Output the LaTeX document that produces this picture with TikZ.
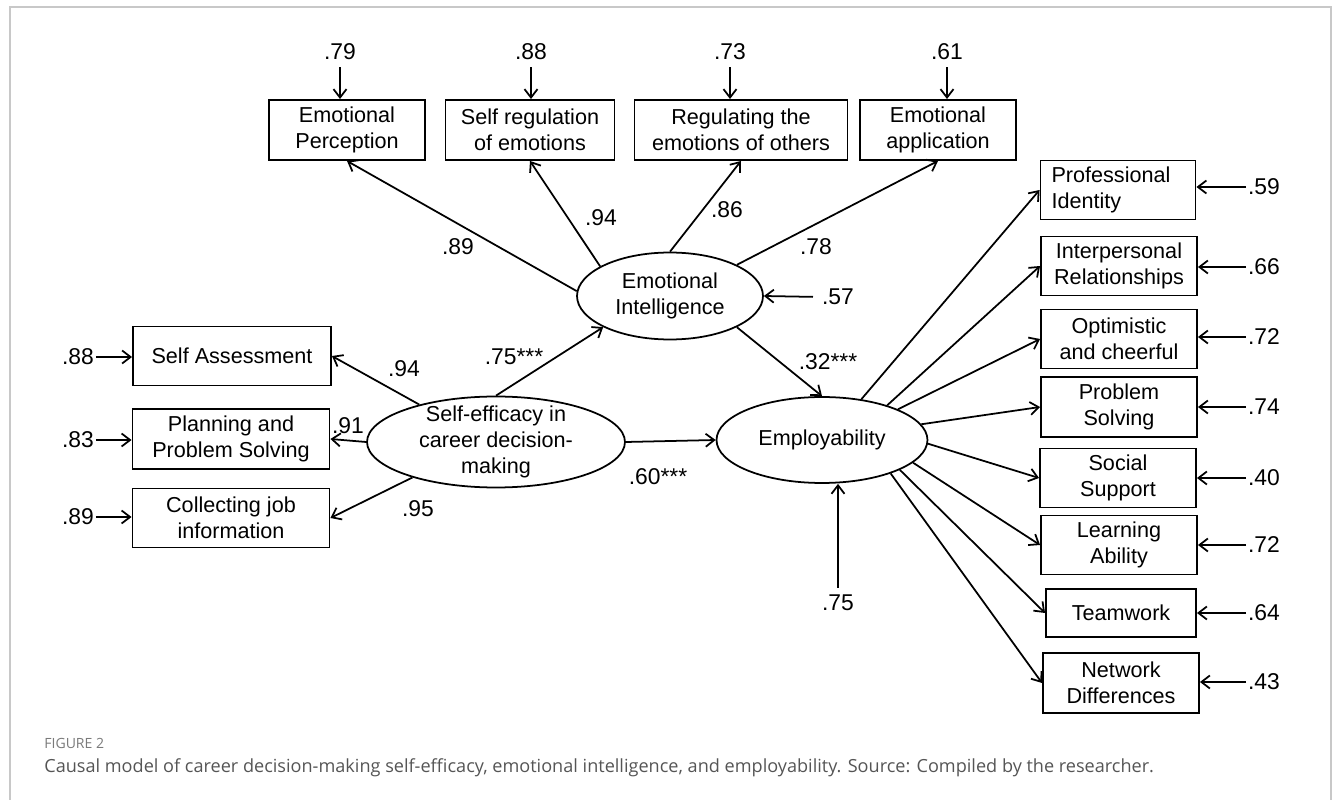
\documentclass[tikz,border=0pt]{standalone}
\usepackage{fontspec}
\setmainfont{Liberation Sans}
\newfontfamily\capfont{Open Sans}
\usepackage{tikz}
\usetikzlibrary{arrows.meta,positioning,shapes.geometric}
\definecolor{framegray}{HTML}{C8C8C8}
\definecolor{capgray}{HTML}{555555}
\definecolor{figgray}{HTML}{7A7A7A}

\begin{document}
\begin{tikzpicture}[
  x=0.02cm,y=-0.02cm,
  indicator/.style={rectangle,draw,line width=1.1pt,minimum width=3.12cm,minimum height=1.2cm,
                    align=center,inner sep=2pt,font=\fontsize{12.3}{14.8}\selectfont},
  latent/.style={ellipse,draw,line width=1pt,inner sep=0pt,align=center,
                 font=\fontsize{12.3}{14.8}\selectfont},
  coef/.style={inner sep=1pt,font=\fontsize{13}{15}\selectfont},
  errterm/.style={inner xsep=1pt,inner ysep=4pt,font=\fontsize{13}{15}\selectfont},
  arrow/.style={-{Straight Barb[length=1.7mm,width=2.6mm]},line width=1pt}
]
  \useasboundingbox (0,0) rectangle (1333,800);
  \draw[framegray,line width=0.8pt] (10,800) -- (10,7) -- (1331,7) -- (1331,800);

  % latent constructs
  \node[latent,minimum width=5.16cm,minimum height=1.82cm,inner ysep=-6pt] (cdse) at (496,442) {Self-efficacy in\\career decision-\\making};
  \node[latent,minimum width=3.72cm,minimum height=1.74cm] (ei) at (670,296) {Emotional\\Intelligence};
  \node[latent,minimum width=4.22cm,minimum height=1.72cm] (emp) at (822,440) {Employability};

  % emotional intelligence indicators
  \node[indicator] (perc) at (347,130) {Emotional\\Perception};
  \node[indicator,minimum width=3.38cm] (selfreg) at (530,130) {Self regulation\\of emotions};
  \node[indicator,minimum width=4.26cm] (others) at (741,130) {Regulating the\\emotions of others};
  \node[indicator] (appl) at (938,130) {Emotional\\application};

  % self-efficacy indicators
  \node[indicator,minimum width=3.96cm,minimum height=1.18cm] (assess) at (232,356) {Self Assessment};
  \node[indicator,minimum width=3.94cm] (plan) at (231,439) {Planning and\\Problem Solving};
  \node[indicator,minimum width=3.94cm,minimum height=1.18cm] (jobinfo) at (231,518) {Collecting job\\information};

  % employability indicators
  \node[indicator,minimum width=3.1cm,minimum height=1.18cm,align=left,text width=2.66cm,inner xsep=0.22cm] (ident) at (1118,190) {Professional\\Identity};
  \node[indicator,minimum height=1.18cm] (relat) at (1119,266) {Interpersonal\\Relationships};
  \node[indicator,minimum height=1.18cm] (optim) at (1119,339) {Optimistic\\and cheerful};
  \node[indicator] (probsolv) at (1119,407) {Problem\\Solving};
  \node[indicator,minimum height=1.18cm] (social) at (1118,478) {Social\\Support};
  \node[indicator,minimum height=1.18cm] (learn) at (1119,545) {Learning\\Ability};
  \node[indicator,minimum width=3.0cm,minimum height=0.96cm] (team) at (1121,613) {Teamwork};
  \node[indicator] (network) at (1121,683) {Network\\Differences};

  % error terms
  \node[errterm] (eperc) at (340,52) {.79};
  \node[errterm] (eselfreg) at (531,52) {.88};
  \node[errterm] (eothers) at (730,52) {.73};
  \node[errterm] (eappl) at (947,52) {.61};
  \node[errterm] (eassess) at (78,357) {.88};
  \node[errterm] (eplan) at (78,440) {.83};
  \node[errterm] (ejobinfo) at (78,517) {.89};
  \node[errterm] (eei) at (838,297) {.57};
  \node[errterm] (eemp) at (838,603) {.75};
  \node[errterm] (eident) at (1264,187) {.59};
  \node[errterm] (erelat) at (1264,267) {.66};
  \node[errterm] (eoptim) at (1264,337) {.72};
  \node[errterm] (eprobsolv) at (1264,407) {.74};
  \node[errterm] (esocial) at (1264,478) {.40};
  \node[errterm] (elearn) at (1264,545) {.72};
  \node[errterm] (eteam) at (1264,613) {.64};
  \node[errterm] (enetwork) at (1264,682) {.43};

  \draw[arrow] (eperc.south) -- (eperc.south |- perc.north);
  \draw[arrow] (eselfreg.south) -- (eselfreg.south |- selfreg.north);
  \draw[arrow] (eothers.south) -- (eothers.south |- others.north);
  \draw[arrow] (eappl.south) -- (eappl.south |- appl.north);
  \draw[arrow] (eassess.east) -- (eassess.east -| assess.west);
  \draw[arrow] (eplan.east) -- (eplan.east -| plan.west);
  \draw[arrow] (ejobinfo.east) -- (ejobinfo.east -| jobinfo.west);
  \draw[arrow,shorten <=4pt] (eei.west) -- (ei.east);
  \draw[arrow] (eemp.north) -- (eemp.north |- emp.south);
  \draw[arrow] (eident.west) -- (eident.west -| ident.east);
  \draw[arrow] (erelat.west) -- (erelat.west -| relat.east);
  \draw[arrow] (eoptim.west) -- (eoptim.west -| optim.east);
  \draw[arrow] (eprobsolv.west) -- (eprobsolv.west -| probsolv.east);
  \draw[arrow] (esocial.west) -- (esocial.west -| social.east);
  \draw[arrow] (elearn.west) -- (elearn.west -| learn.east);
  \draw[arrow] (eteam.west) -- (eteam.west -| team.east);
  \draw[arrow] (enetwork.west) -- (enetwork.west -| network.east);

  % loadings
  \draw[arrow] (ei.177) -- (perc.south);
  \draw[arrow] (ei.157) -- (selfreg.south);
  \draw[arrow] (ei.north) -- (others.south);
  \draw[arrow] (ei.25) -- (appl.south);
  \draw[arrow] (cdse.154) -- (assess.east);
  \draw[arrow] (cdse.west) -- (plan.east);
  \draw[arrow] (cdse.203) -- (jobinfo.east);
  \draw[arrow] (emp.46) -- (ident.west);
  \draw[arrow] (emp.28) -- (relat.west);
  \draw[arrow] (emp.22) -- (optim.west);
  \draw[arrow] (emp.9) -- (probsolv.west);
  \draw[arrow] (emp.-2) -- (social.west);
  \draw[arrow] (emp.-14) -- (learn.west);
  \draw[arrow] (emp.-21) -- (team.west);
  \draw[arrow] (emp.-26) -- (network.west);

  % structural paths
  \draw[arrow] (cdse.north) -- (ei.205);
  \draw[arrow] (cdse.east) -- (emp.west);
  \draw[arrow] (ei.-25) -- (emp.north);

  \node[coef] (lperc) at (458,247) {.89};
  \node[coef] (lselfreg) at (601,218) {.94};
  \node[coef] (lothers) at (727,210) {.86};
  \node[coef] (lappl) at (816,247) {.78};
  \node[coef] (lassess) at (404,369) {.94};
  \node[coef] (lplan) at (348,426) {.91};
  \node[coef] (ljobinfo) at (418,509) {.95};
  \node[coef] (lcdseei) at (514,357) {.75***};
  \node[coef] (lcdseemp) at (658,477) {.60***};
  \node[coef] (leiemp) at (828,362) {.32***};

  % caption
  \node[anchor=base west,inner sep=0pt,text=figgray,font=\capfont\fontsize{8}{9}\selectfont] (figno) at (44,748) {FIGURE 2};
  \node[anchor=base west,inner sep=0pt,text=capgray,font=\capfont\fontsize{10.3}{12}\selectfont] (caption) at (44,772) {Causal model of career decision-making self-efficacy, emotional intelligence, and employability. Source: Compiled by the researcher.};
\end{tikzpicture}
\end{document}
